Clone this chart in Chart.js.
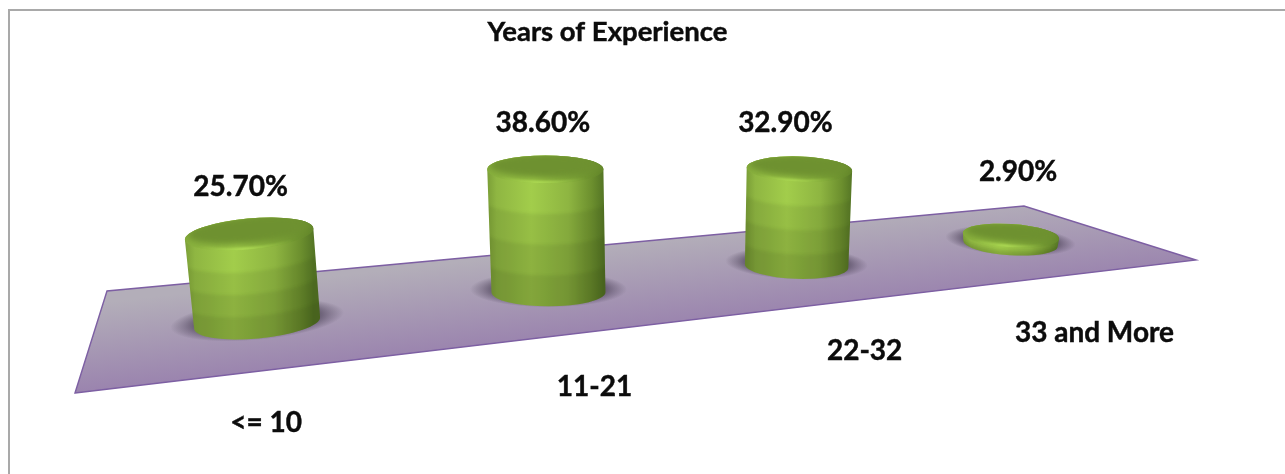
<!DOCTYPE html>
<html>
<head>
<meta charset="utf-8">
<title>Years of Experience</title>
<script src="https://cdn.jsdelivr.net/npm/chart.js@4"></script>
<style>
    body { margin: 0; background: #fff; }
    #frame { position: absolute; left: 8px; top: 9px; width: 1277px; height: 465px; border-top: 2px solid #a9a9a9; border-left: 2px solid #a9a9a9; box-sizing: border-box; }
    #chart { position: absolute; left: 0; top: 0; filter: blur(0.4px); }
</style>
</head>
<body>
<div id="frame"></div>
<canvas id="chart" width="1285" height="474"></canvas>
<script>
// Chart data
const chartTitle = 'Years of Experience';
const categories = ['<= 10', '11-21', '22-32', '33 and More'];
const experienceShare = [25.7, 38.6, 32.9, 2.9];

// Floor corners on the page: front left, front right, back right, back left
const floor = [[75, 393], [1196, 260], [1024, 206], [107, 291]];
const BASE_DEPTH = 0.45;      // where the cylinders stand across the floor
const FLOOR_SPAN = 1.005;     // chart area widths covered by the floor
const HEIGHT_AT_FRONT = 362;  // pixels for a full 100% at the near end

// Hand placed text, relative to the cylinder top / base centre
const valueOffsets = [[-8.5, -47], [-2.5, -46], [-14, -46], [7, -64]];
const categoryOffsets = [[9, 100], [46, 95], [68, 85], [84, 89]];

const TITLE_SIZE = 27.5;
const TITLE_PAD_TOP = 16;
const VALUE_FONT = 'bold 28px Lato';
const CATEGORY_FONT = 'bold 28px Lato';
const TEXT_COLOR = '#0c0c0c';
const TEXT_WEIGHT = 0.45;     // extra stroke, the original text is heavier than Lato Bold

// Homography from the unit square to the floor quad
function makeProjection(q) {
    const sx = q[0][0] - q[1][0] + q[2][0] - q[3][0];
    const sy = q[0][1] - q[1][1] + q[2][1] - q[3][1];
    const dx1 = q[1][0] - q[2][0], dx2 = q[3][0] - q[2][0];
    const dy1 = q[1][1] - q[2][1], dy2 = q[3][1] - q[2][1];
    const den = dx1 * dy2 - dx2 * dy1;
    const g = (sx * dy2 - dx2 * sy) / den;
    const h = (dx1 * sy - sx * dy1) / den;
    const a = q[1][0] - q[0][0] + g * q[1][0];
    const b = q[3][0] - q[0][0] + h * q[3][0];
    const d = q[1][1] - q[0][1] + g * q[1][1];
    const e = q[3][1] - q[0][1] + h * q[3][1];
    return function(u, v) {
        const w = g * u + h * v + 1;
        return { x: (a * u + b * v + q[0][0]) / w, y: (d * u + e * v + q[0][1]) / w, w: w };
    };
}
const project = makeProjection(floor);

// Purple floor
function drawFloor(ctx) {
    const start = project(0.5, 1);
    const grad = ctx.createLinearGradient(start.x, start.y, start.x + 10, start.y + 88);
    grad.addColorStop(0, '#b3aeb9');
    grad.addColorStop(1, '#9a83ae');
    ctx.beginPath();
    floor.forEach((p, i) => i ? ctx.lineTo(p[0], p[1]) : ctx.moveTo(p[0], p[1]));
    ctx.closePath();
    ctx.fillStyle = grad;
    ctx.fill();
    ctx.strokeStyle = '#7d5fa3';
    ctx.lineWidth = 1.4;
    ctx.stroke();
}

// Soft shadow around the foot of a cylinder
function drawShadow(ctx, c) {
    ctx.save();
    ctx.translate(c.baseX, c.baseY - 3);
    ctx.rotate(c.tilt);
    ctx.scale(1, 0.23);
    const r = c.rx * 1.38;
    const grad = ctx.createRadialGradient(0, 0, 0, 0, 0, r);
    grad.addColorStop(0, 'rgba(72,62,84,0.85)');
    grad.addColorStop(0.68, 'rgba(72,62,84,0.75)');
    grad.addColorStop(0.84, 'rgba(72,62,84,0.35)');
    grad.addColorStop(1, 'rgba(72,62,84,0)');
    ctx.fillStyle = grad;
    ctx.beginPath();
    ctx.arc(0, 0, r, 0, Math.PI * 2);
    ctx.fill();
    ctx.restore();
}

// One green cylinder: body with darker rings, then the bevelled top
function drawCylinder(ctx, c) {
    const cos = Math.cos(c.tilt), sin = Math.sin(c.tilt);
    const topRx = c.rx * 1.02;

    ctx.save();
    ctx.beginPath();
    ctx.moveTo(c.topX - topRx * cos, c.topY - topRx * sin);
    ctx.ellipse(c.baseX, c.baseY, c.rx, c.ry, c.tilt, Math.PI, 0, true);
    ctx.ellipse(c.topX, c.topY, topRx, c.ry, c.tilt, 0, Math.PI, true);
    ctx.closePath();

    const body = ctx.createLinearGradient(c.topX - topRx, 0, c.topX + topRx, 0);
    body.addColorStop(0, '#7b9f37');
    body.addColorStop(0.08, '#8fb642');
    body.addColorStop(0.38, '#a2cd4b');
    body.addColorStop(0.7, '#8eb541');
    body.addColorStop(0.9, '#6c8f2e');
    body.addColorStop(1, '#557625');
    ctx.fillStyle = body;
    ctx.fill();
    ctx.clip();

    // Rings get darker towards the floor
    ctx.filter = 'blur(1.6px)';
    ctx.fillStyle = 'rgba(40,50,10,0.085)';
    for (let i = 1; i < 4; i++) {
        const f = i / 4;
        const x = c.topX + (c.baseX - c.topX) * f;
        const y = c.topY + (c.baseY - c.topY) * f;
        ctx.beginPath();
        ctx.ellipse(x, y, c.rx * 1.1, c.ry, c.tilt, Math.PI, 0, true);
        ctx.lineTo(x + c.rx * 1.2, c.baseY + c.ry * 2);
        ctx.lineTo(x - c.rx * 1.2, c.baseY + c.ry * 2);
        ctx.closePath();
        ctx.fill();
    }
    ctx.restore();

    // Top face with rim
    ctx.save();
    const rim = ctx.createLinearGradient(c.topX - topRx, 0, c.topX + topRx, 0);
    rim.addColorStop(0, '#86ad3c');
    rim.addColorStop(0.4, '#9cc847');
    rim.addColorStop(1, '#628529');
    ctx.fillStyle = rim;
    ctx.beginPath();
    ctx.ellipse(c.topX, c.topY, topRx, c.ry, c.tilt, 0, Math.PI * 2);
    ctx.fill();
    ctx.clip();

    ctx.filter = 'blur(3px)';
    ctx.fillStyle = '#6e9130';
    ctx.beginPath();
    ctx.ellipse(c.topX, c.topY - c.ry * 0.28, topRx * 0.96, c.ry * 0.9, c.tilt, 0, Math.PI * 2);
    ctx.fill();

    ctx.filter = 'blur(1px)';
    const glint = ctx.createLinearGradient(c.topX - topRx, 0, c.topX + topRx, 0);
    glint.addColorStop(0.1, 'rgba(180,225,88,0)');
    glint.addColorStop(0.45, 'rgba(180,225,88,1)');
    glint.addColorStop(0.85, 'rgba(180,225,88,0)');
    ctx.strokeStyle = glint;
    ctx.lineWidth = 2.2;
    ctx.beginPath();
    ctx.ellipse(c.topX, c.topY, topRx - 1, c.ry - 1, c.tilt, 0.2, Math.PI - 0.2);
    ctx.stroke();
    ctx.restore();
}

// Turn the library's bar elements into cylinders standing on the floor
function buildCylinders(chart) {
    const area = chart.chartArea;
    const scale = HEIGHT_AT_FRONT / area.height;
    const nearW = project(0, BASE_DEPTH).w;
    return chart.getDatasetMeta(0).data.map(bar => {
        const u = (bar.x - area.left) / (area.width * FLOOR_SPAN);
        const foot = project(u, BASE_DEPTH);
        const perspective = nearW / foot.w;
        const height = (bar.base - bar.y) * scale * perspective;
        const rx = bar.width / 2 * Math.pow(perspective, 1.25);
        return {
            baseX: foot.x,
            baseY: foot.y,
            topX: foot.x + (foot.x - 665) * 0.00022 * height,
            topY: foot.y - height,
            rx: rx,
            ry: rx * 0.245,
            tilt: (foot.x - 550) * (foot.x < 550 ? 0.00031 : 0.00014)
        };
    });
}

// Text drawn with a hairline stroke so it reads as heavy as the original
function drawLabel(ctx, text, x, y, font) {
    ctx.font = font;
    ctx.fillText(text, x, y);
    ctx.strokeText(text, x, y);
}

const cylinderPlugin = {
    id: 'cylinders',
    beforeDatasetsDraw(chart) {
        drawFloor(chart.ctx);
    },
    afterDatasetsDraw(chart) {
        const ctx = chart.ctx;
        const cylinders = buildCylinders(chart);

        cylinders.forEach(c => drawShadow(ctx, c));
        cylinders.forEach(c => drawCylinder(ctx, c));

        ctx.save();
        ctx.fillStyle = TEXT_COLOR;
        ctx.strokeStyle = TEXT_COLOR;
        ctx.lineWidth = TEXT_WEIGHT;
        ctx.textAlign = 'center';
        ctx.textBaseline = 'middle';
        cylinders.forEach((c, i) => {
            drawLabel(ctx, experienceShare[i].toFixed(2) + '%', c.topX + valueOffsets[i][0], c.topY + valueOffsets[i][1], VALUE_FONT);
            drawLabel(ctx, categories[i], c.baseX + categoryOffsets[i][0], c.baseY + categoryOffsets[i][1], CATEGORY_FONT);
        });
        ctx.restore();
    },
    afterDraw(chart) {
        // Same hairline on the library's own title
        const block = chart.titleBlock;
        const ctx = chart.ctx;
        ctx.save();
        ctx.font = 'bold ' + TITLE_SIZE + 'px Lato';
        ctx.strokeStyle = TEXT_COLOR;
        ctx.lineWidth = TEXT_WEIGHT;
        ctx.textAlign = 'center';
        ctx.textBaseline = 'middle';
        ctx.strokeText(chartTitle, (block.left + block.right) / 2, block.top + TITLE_PAD_TOP + TITLE_SIZE * 0.6);
        ctx.restore();
    }
};

new Chart(document.getElementById('chart').getContext('2d'), {
    type: 'bar',
    data: {
        labels: categories,
        datasets: [{
            data: experienceShare,
            backgroundColor: 'rgba(0,0,0,0)',
            borderWidth: 0,
            barPercentage: 0.44,
            categoryPercentage: 1
        }]
    },
    options: {
        responsive: false,
        animation: false,
        events: [],
        // right padding moves the centred title to where it sits in the original
        layout: { padding: { right: 70 } },
        plugins: {
            legend: { display: false },
            tooltip: { enabled: false },
            title: {
                display: true,
                text: chartTitle,
                color: TEXT_COLOR,
                font: { family: 'Lato', size: TITLE_SIZE, weight: 'bold', lineHeight: 1.2 },
                padding: { top: TITLE_PAD_TOP, bottom: 10 }
            }
        },
        scales: {
            x: { display: false },
            y: { display: false, min: 0, max: 100 }
        }
    },
    plugins: [cylinderPlugin]
});
</script>
</body>
</html>
